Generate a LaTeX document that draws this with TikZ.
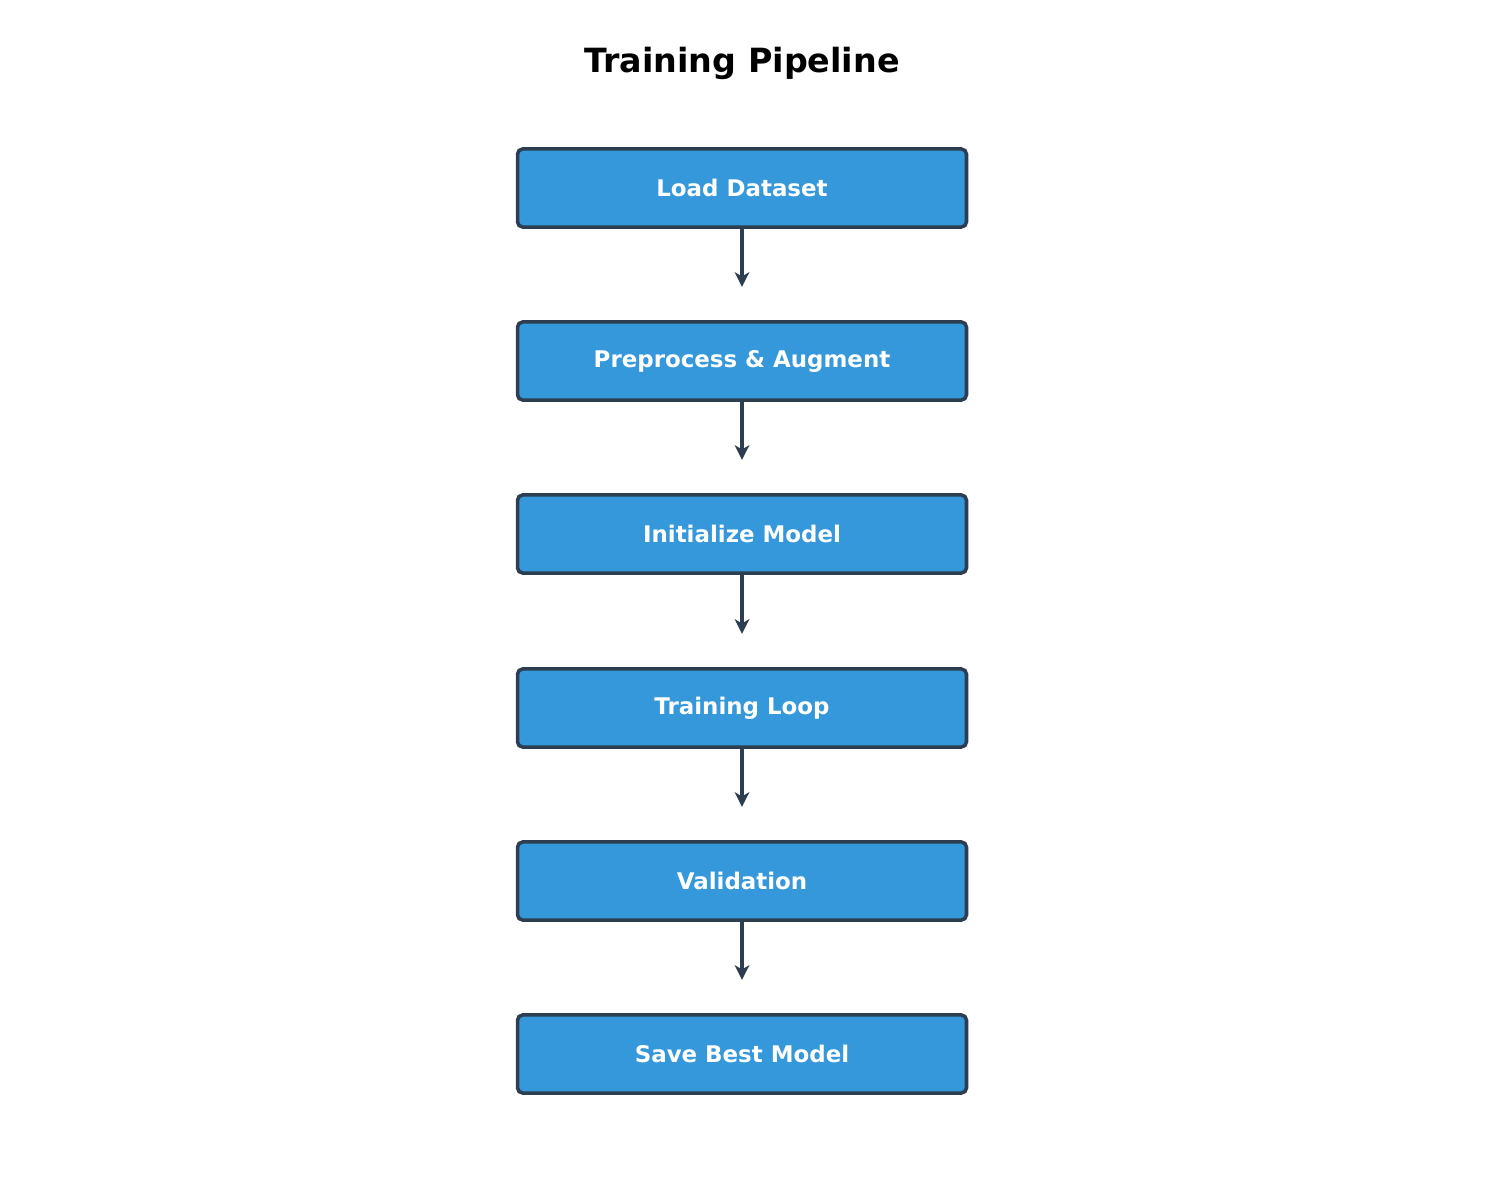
\documentclass[tikz,border=0pt]{standalone}
\usepackage{fontspec}
\setmainfont{DejaVu Sans}
\usetikzlibrary{arrows.meta}
\definecolor{stepblue}{HTML}{3498DB}
\definecolor{darkedge}{HTML}{2C3E50}

\begin{document}
\begin{tikzpicture}[x=0.48pt,y=-0.48pt]
\tikzstyle{every node}=[font=\bfseries\fontsize{11}{13}\selectfont]
\tikzstyle{stepbox}=[draw=darkedge, fill=stepblue, text=white, line width=1.7pt, rounded corners=2.5pt, minimum width=215.5pt, minimum height=37.5pt, inner sep=0pt]
\tikzstyle{arr}=[draw=darkedge, line width=1.7pt, -{Stealth[length=7pt,width=7pt,inset=2pt]}]
\useasboundingbox (0,0) rectangle (1485,1185);

\node[font=\bfseries\fontsize{16}{19}\selectfont] (title) at (742,63) {Training Pipeline};

\node[stepbox] (load) at (742,188) {Load Dataset};
\node[stepbox] (prep) at (742,361) {Preprocess \& Augment};
\node[stepbox] (init) at (742,534) {Initialize Model};
\node[stepbox] (train) at (742,708) {Training Loop};
\node[stepbox] (valid) at (742,881) {Validation};
\node[stepbox] (save) at (742,1054) {Save Best Model};

\draw[arr] (load.south) -- ([yshift=16pt]prep.north);
\draw[arr] (prep.south) -- ([yshift=16pt]init.north);
\draw[arr] (init.south) -- ([yshift=16pt]train.north);
\draw[arr] (train.south) -- ([yshift=16pt]valid.north);
\draw[arr] (valid.south) -- ([yshift=16pt]save.north);
\end{tikzpicture}
\end{document}
